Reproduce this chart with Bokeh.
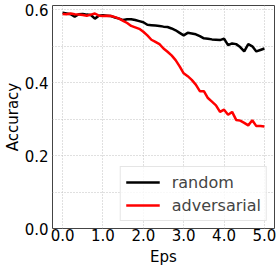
from bokeh.plotting import figure
from bokeh.models import FixedTicker, Range1d, Legend, LegendItem
from bokeh.embed import file_html
from bokeh.resources import INLINE

eps = [0.0, 0.1, 0.2, 0.3, 0.4, 0.5, 0.6, 0.7, 0.8, 0.9,
       1.0, 1.1, 1.2, 1.3, 1.4, 1.5, 1.6, 1.7, 1.8, 1.9,
       2.0, 2.1, 2.2, 2.3, 2.4, 2.5, 2.6, 2.7, 2.8, 2.9,
       3.0, 3.1, 3.2, 3.3, 3.4, 3.5, 3.6, 3.7, 3.8, 3.9,
       4.0, 4.1, 4.2, 4.3, 4.4, 4.5, 4.6, 4.7, 4.8, 4.9, 5.0]

random_acc = [0.592, 0.590, 0.588, 0.581, 0.588, 0.589, 0.587, 0.586, 0.576, 0.584,
              0.585, 0.584, 0.583, 0.579, 0.576, 0.572, 0.574, 0.574, 0.572, 0.569,
              0.566, 0.559, 0.558, 0.557, 0.556, 0.554, 0.553, 0.549, 0.544, 0.537,
              0.530, 0.537, 0.535, 0.533, 0.528, 0.522, 0.521, 0.519, 0.518, 0.517,
              0.521, 0.503, 0.508, 0.506, 0.498, 0.486, 0.506, 0.500, 0.486, 0.490, 0.494]

adversarial_acc = [0.589, 0.588, 0.590, 0.588, 0.587, 0.586, 0.584, 0.587, 0.590, 0.584,
                   0.583, 0.584, 0.583, 0.580, 0.576, 0.570, 0.564, 0.556, 0.552, 0.548,
                   0.540, 0.530, 0.518, 0.512, 0.506, 0.494, 0.485, 0.475, 0.462, 0.445,
                   0.426, 0.418, 0.408, 0.395, 0.377, 0.377, 0.358, 0.348, 0.338, 0.320,
                   0.326, 0.312, 0.320, 0.298, 0.296, 0.290, 0.283, 0.297, 0.281, 0.281, 0.280]

x_ticks = [0, 1, 2, 3, 4, 5]
x_tick_labels = ["0.0", "1.0", "2.0", "3.0", "4.0", "5.0"]
y_ticks = [0.0, 0.2, 0.4, 0.6]
y_tick_labels = ["0.0", "0.2", "0.4", "0.6"]
y_grid = [0.0, 0.1, 0.2, 0.3, 0.4, 0.5, 0.6]

FONT = "DejaVu Sans"

p = figure(width=278, height=268, output_backend="svg", toolbar_location=None,
           x_range=Range1d(-0.25, 5.25), y_range=Range1d(0, 0.612),
           min_border_left=30, min_border_right=4, min_border_top=5, min_border_bottom=30)

p.border_fill_color = "white"
p.outline_line_color = "#444444"
p.outline_line_width = 1
p.background_fill_color = "white"

for ax in (p.xaxis[0], p.yaxis[0]):
    ax.axis_line_color = None
    ax.major_tick_line_color = None
    ax.major_tick_in = 0
    ax.major_tick_out = 0
    ax.minor_tick_line_color = None
    ax.major_label_text_font = FONT
    ax.major_label_text_font_size = "15px"
    ax.major_label_text_color = "black"
    ax.axis_label_text_font = FONT
    ax.axis_label_text_font_size = "15px"
    ax.axis_label_text_font_style = "normal"
    ax.axis_label_text_color = "black"

p.xaxis.ticker = FixedTicker(ticks=x_ticks)
p.xaxis.major_label_overrides = {t: l for t, l in zip(x_ticks, x_tick_labels)}
p.yaxis.ticker = FixedTicker(ticks=y_ticks)
p.yaxis.major_label_overrides = {t: l for t, l in zip(y_ticks, y_tick_labels)}
p.xaxis.major_label_standoff = 0
p.yaxis.major_label_standoff = 4
p.xaxis.axis_label = "Eps"
p.yaxis.axis_label = "Accuracy"
p.xaxis.axis_label_standoff = 4
p.yaxis.axis_label_standoff = 0

p.xgrid.ticker = FixedTicker(ticks=x_ticks)
p.ygrid.ticker = FixedTicker(ticks=y_grid)
for g in (p.xgrid[0], p.ygrid[0]):
    g.grid_line_color = "#c0c0c0"
    g.grid_line_dash = "1 2"
    g.grid_line_width = 1

r1 = p.line(eps, random_acc, line_color="black", line_width=2.5)
r2 = p.line(eps, adversarial_acc, line_color="red", line_width=2.5)

legend = Legend(items=[LegendItem(label="random", renderers=[r1]),
                       LegendItem(label="adversarial", renderers=[r2])],
                location="bottom_right", margin=7, padding=5, spacing=3,
                glyph_width=34, glyph_height=20, label_height=20, label_standoff=12,
                label_text_font=FONT, label_text_font_size="16px",
                border_line_color="#cccccc", border_line_width=1,
                background_fill_color="white", background_fill_alpha=0.8)
p.add_layout(legend, "center")

open("out.html", "w").write(file_html(p, INLINE))
